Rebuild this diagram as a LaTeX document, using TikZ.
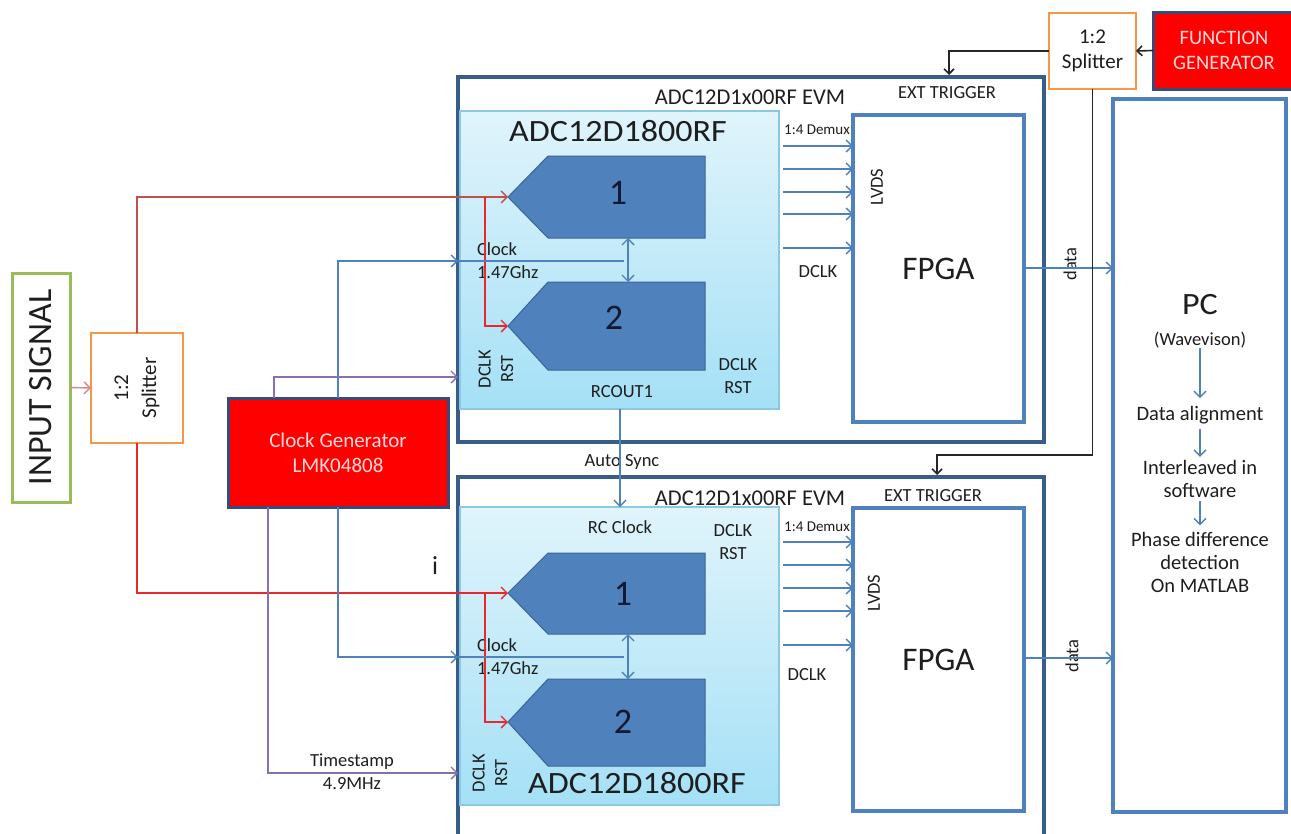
\documentclass[tikz,border=0pt]{standalone}
\usepackage{fontspec}
\setmainfont{Carlito}
\usetikzlibrary{arrows.meta,calc}
\definecolor{evmb}{RGB}{56,93,138}
\definecolor{ob}{RGB}{79,129,189}
\definecolor{chipb}{RGB}{140,200,225}
\definecolor{chiptop}{RGB}{224,244,251}
\definecolor{chipbot}{RGB}{165,224,246}
\definecolor{pentd}{RGB}{60,100,150}
\definecolor{redm}{RGB}{192,80,77}
\definecolor{redb}{RGB}{232,40,45}
\definecolor{pinkl}{RGB}{217,135,140}
\definecolor{purp}{RGB}{135,112,172}
\definecolor{grn}{RGB}{155,187,89}
\definecolor{org}{RGB}{247,150,70}
\definecolor{gennavy}{RGB}{55,75,120}
\definecolor{paletxt}{RGB}{255,218,218}
\definecolor{txt}{RGB}{30,30,30}
\definecolor{digit}{RGB}{20,25,50}
\begin{document}
\begin{tikzpicture}[x=1pt,y=-1pt,
  every node/.style={inner sep=0pt,outer sep=0pt,text=txt},
  lbl/.style={font=\fontsize{18.5}{22.5}\selectfont,align=center},
  smlbl/.style={font=\fontsize{15}{17}\selectfont},
  pclbl/.style={font=\fontsize{20.5}{23}\selectfont,align=center},
  bigt/.style={font=\fontsize{31}{34}\selectfont},
  dig/.style={font=\fontsize{36}{38}\selectfont,text=digit},
  box/.style={draw,inner sep=0pt,outer sep=0pt},
  evm/.style={box,draw=evmb,line width=3.2pt},
  chip/.style={box,draw=chipb,line width=1.2pt,top color=chiptop,bottom color=chipbot},
  fpgabox/.style={box,draw=ob,line width=3.3pt,fill=white,font=\fontsize{33}{36}\selectfont},
  pent/.style={fill=ob,draw=pentd,line width=1pt},
  tipb/.style={-{Straight Barb[length=6pt,width=12pt]}},
  barr/.style={draw=ob,line width=1.4pt,tipb},
  bline/.style={draw=ob,line width=1.4pt},
  bboth/.style={draw=ob,line width=1.4pt,{Straight Barb[length=6pt,width=12pt]}-{Straight Barb[length=6pt,width=12pt]}},
  rarrm/.style={draw=redm,line width=1.4pt,tipb},
  rarrb/.style={draw=redb,line width=1.4pt,tipb},
  parr/.style={draw=purp,line width=1.4pt,tipb},
  karr/.style={draw=black!85,line width=1.6pt,-{Straight Barb[length=5pt,width=10pt]}},
]
\useasboundingbox (0,0) rectangle (1291,833);
\clip (0,0) rectangle (1291,833);
\fill[white] (0,0) rectangle (1291,833);

% ---------- EVM boards ----------
\node[evm,minimum width=586pt,minimum height=365pt] (uevm) at (751,259.5) {};
\node[evm,minimum width=586pt,minimum height=440pt] (levm) at (751,697) {};

% ---------- ADC chips ----------
\node[chip,minimum width=319pt,minimum height=298pt] (uchip) at (619.5,260) {};
\node[chip,minimum width=319pt,minimum height=298pt] (lchip) at (619.5,656) {};

% pentagons upper
\draw[pent] (508,197) coordinate (u1tip) -- (548,156) -- (705,156) -- (705,238) -- (548,238) -- cycle;
\draw[pent] (508,326) coordinate (u2tip) -- (548,282) -- (705,282) -- (705,370) -- (548,370) -- cycle;
\node[dig] (u1lab) at (618,193) {1};
\node[dig] (u2lab) at (614,318) {2};
% pentagons lower
\draw[pent] (508,593) coordinate (l1tip) -- (548,553) -- (705,553) -- (705,634) -- (548,634) -- cycle;
\draw[pent] (508,722) coordinate (l2tip) -- (548,679) -- (705,679) -- (705,766) -- (548,766) -- cycle;
\node[dig] (l1lab) at (623,594) {1};
\node[dig] (l2lab) at (623,722) {2};

\coordinate (u1b) at (628,238);
\coordinate (u2t) at (628,282);
\coordinate (l1b) at (628,634);
\coordinate (l2t) at (628,679);

% ---------- FPGAs and PC ----------
\node[fpgabox,minimum width=171pt,minimum height=307pt] (ufpga) at (938.5,268.5) {FPGA};
\node[fpgabox,minimum width=171pt,minimum height=303pt] (lfpga) at (938.5,659.5) {FPGA};
\node[box,draw=ob,line width=3.3pt,minimum width=173pt,minimum height=713pt] (pc) at (1199.5,455.5) {};

% ---------- left side ----------
\node[box,draw=grn,line width=3pt,minimum width=58pt,minimum height=229pt] (inp) at (41,387.5) {};
\node[rotate=90,font=\fontsize{34}{36}\selectfont] (inptxt) at (41,387.5) {INPUT SIGNAL};
\node[box,draw=org,line width=2.8pt,minimum width=92pt,minimum height=110pt] (splitL) at (137,388) {};
\node[rotate=90,font=\fontsize{21}{28}\selectfont,align=center] (splitLtxt) at (137,388) {1:2\\Splitter};
\node[box,fill=red,draw=gennavy,line width=3pt,minimum width=220pt,minimum height=109pt,
      font=\fontsize{21}{25}\selectfont,align=center,text=paletxt] (cg) at (338,452.5) {Clock Generator\\LMK04808};

% ---------- top right ----------
\node[box,draw=org,line width=2.8pt,minimum width=87pt,minimum height=76pt,
      font=\fontsize{21}{25}\selectfont,align=center] (splitT) at (1092.5,51) {1:2\\Splitter};
\node[box,fill=red,draw=gennavy,line width=3pt,minimum width=142pt,minimum height=77pt,
      font=\fontsize{20.5}{25}\selectfont,align=center,text=paletxt] (fg) at (1224,50.5) {FUNCTION\\GENERATOR};

% ---------- text labels ----------
\node[font=\fontsize{22.5}{25}\selectfont] (uevmt) at (750,97) {ADC12D1x00RF EVM};
\node[font=\fontsize{22.5}{25}\selectfont] (levmt) at (750,498) {ADC12D1x00RF EVM};
\node[lbl] (uext) at (947,93) {EXT TRIGGER};
\node[lbl] (lext) at (933,496) {EXT TRIGGER};
\node[bigt] (uadc) at (618,131) {\scalebox{1.1}[1]{ADC12D1800RF}};
\node[bigt] (ladc) at (637,783) {\scalebox{1.1}[1]{ADC12D1800RF}};
\node[lbl,align=left,anchor=west] (uclkt) at (477,260.5) {Clock\\1.47Ghz};
\node[lbl,align=left,anchor=west] (lclkt) at (477,656.5) {Clock\\1.47Ghz};
\node[lbl,rotate=90] (urstl) at (496,369) {DCLK\\RST};
\node[lbl,rotate=90] (lrstl) at (490,773) {DCLK\\RST};
\node[lbl] (urstr) at (738,376) {DCLK\\RST};
\node[lbl] (lrstr) at (733,542) {DCLK\\RST};
\node[lbl] (rcout) at (622,392) {RCOUT1};
\node[lbl] (rcclk) at (620,527) {RC Clock};
\node[lbl] (async) at (622,462) {Auto Sync};
\node[smlbl] (udmx) at (817,130) {1:4 Demux};
\node[smlbl] (ldmx) at (817,527) {1:4 Demux};
\node[lbl] (udclk) at (818,272) {DCLK};
\node[lbl] (ldclk) at (807,675) {DCLK};
\node[lbl,rotate=90] (ulvds) at (877,187) {LVDS};
\node[lbl,rotate=90] (llvds) at (874,593) {LVDS};
\node[lbl,rotate=90] (udata) at (1070,264) {data};
\node[lbl,rotate=90] (ldata) at (1072,656) {data};
\node[lbl] (tstamp) at (352,771.5) {Timestamp\\4.9MHz};
\node[font=\fontsize{26}{28}\selectfont] (ilab) at (435,566) {i};

% PC texts
\node[font=\fontsize{31}{34}\selectfont] (pct) at (1200,305) {\scalebox{1.1}[1]{PC}};
\node[font=\fontsize{18.5}{22}\selectfont] (wav) at (1200,340) {(Wavevison)};
\node[pclbl] (dal) at (1200,415) {Data alignment};
\node[pclbl] (ilv) at (1200,478.5) {Interleaved in\\software};
\node[pclbl] (phd) at (1200,562.5) {Phase difference\\detection\\On MATLAB};
\draw[barr,shorten >=8pt] (wav.south) -- (dal.north);
\draw[barr,shorten <=5pt,shorten >=3pt] (dal.south) -- (ilv.north);
\draw[barr,shorten <=4pt,shorten >=7pt] (ilv.south) -- (phd.north);

% ---------- connectors ----------
\draw[draw=pinkl,line width=1.4pt,tipb] (inp.east) -- (splitL.west);
\draw[rarrm] (splitL.north) |- (u1tip);
\draw[rarrb] (splitL.south) |- (l1tip);
\coordinate (ubr) at (485,197);
\coordinate (lbr) at (485,593);
\draw[rarrb] (ubr) |- (u2tip);
\draw[rarrb] (lbr) |- (l2tip);

\coordinate (uclkin) at (458,261);
\coordinate (uclkend) at (624,261);
\coordinate (lclkin) at (458,657);
\coordinate (lclkend) at (624,657);
\draw[barr] (cg.north) |- (uclkin);
\draw[bline] (uclkin) -- (uclkend);
\draw[barr] (cg.south) |- (lclkin);
\draw[bline] (lclkin) -- (lclkend);

\coordinate (ursta) at (458,377);
\coordinate (lts) at (458,773);
\draw[parr] ([xshift=-64pt]cg.north) |- (ursta);
\draw[parr] ([xshift=-70pt]cg.south) |- (lts);

\draw[bboth] (u1b) -- (u2t);
\draw[bboth] (l1b) -- (l2t);

\coordinate (asx) at (620,0);
\draw[barr] (uchip.south -| asx) -- (lchip.north -| asx);

\foreach \yy in {146,169,192,214,248}
  \draw[barr,shorten <=4pt] (uchip.east |- 0,\yy) -- (ufpga.west |- 0,\yy);
\foreach \yy in {542,565,588,611,645}
  \draw[barr,shorten <=4pt] (lchip.east |- 0,\yy) -- (lfpga.west |- 0,\yy);

\draw[barr] (ufpga.east |- 0,268) -- (pc.west |- 0,268);
\draw[barr] (lfpga.east |- 0,658) -- (pc.west |- 0,658);

\coordinate (utrig) at (949,75);
\coordinate (ltrig) at (937,475);
\coordinate (tbend) at (937,455);
\draw[karr] (fg.west) -- (splitT.east);
\draw[karr] (splitT.west) -| (utrig);
\draw[karr] (splitT.south) |- (tbend) -- (ltrig);
\end{tikzpicture}
\end{document}
